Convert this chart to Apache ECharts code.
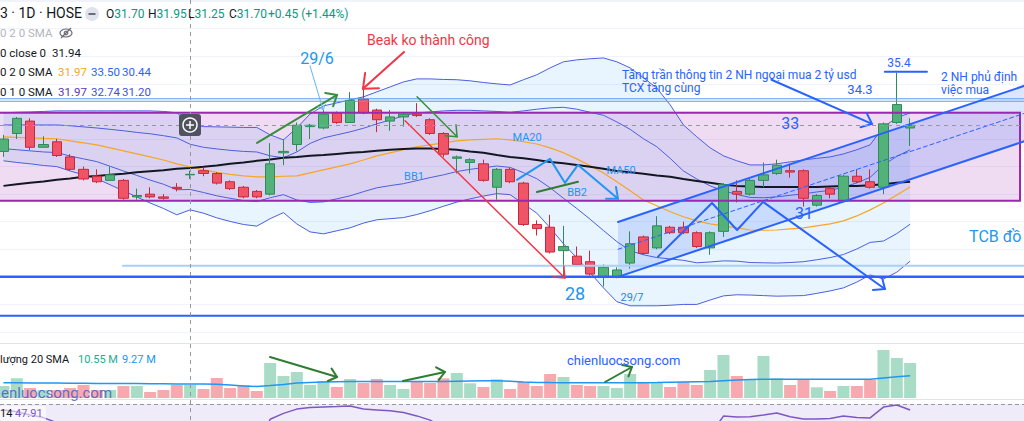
<!DOCTYPE html>
<html><head><meta charset="utf-8">
<script src="https://cdn.jsdelivr.net/npm/echarts@6/dist/echarts.min.js"></script>
<style>html,body{margin:0;padding:0;background:#fff;}#c{width:1024px;height:421px;}</style>
</head><body><div id="c"></div>
<script>
// ---- data ----
const dates = ['26/5','27/5','30/5','31/5','1/6','2/6','3/6','6/6','7/6','8/6','9/6','10/6','13/6','14/6','15/6','16/6','17/6','20/6','21/6','22/6','23/6','24/6','27/6','28/6','29/6','30/6','1/7','4/7','5/7','6/7','7/7','8/7','11/7','12/7','13/7','14/7','15/7','18/7','19/7','20/7','21/7','22/7','25/7','26/7','27/7','28/7','29/7','1/8','2/8','3/8','4/8','5/8','8/8','9/8','10/8','11/8','12/8','15/8','16/8','17/8','18/8','19/8','22/8','23/8','24/8','25/8','26/8','29/8','30/8'];
const open = [32.55,33.20,33.65,32.70,32.90,32.35,31.90,31.65,31.50,31.50, 30.90,31.00,30.90,31.25,31.70,31.85,31.75,31.45,31.25,31.10, 31.00,32.50,32.80,33.45,33.40,33.95,33.60,34.45,34.05,33.65, 33.80,33.90,33.70,33.20,32.30,32.15,32.10,31.25,31.90,31.40, 29.90,29.80,28.95,28.75,28.55,28.00,28.00,28.50,29.45,29.05, 29.80,29.80,29.60,29.05,29.65,31.10,31.00,31.50,31.75,31.85, 31.85,30.60,31.20,30.75,31.65,31.45,31.25,33.60,33.40];
const close = [33.00,33.75,32.70,32.80,32.40,31.90,31.55,31.45,31.70,30.85, 30.95,30.90,30.85,31.20,31.72,31.75,31.40,31.20,30.90,30.90, 32.10,32.55,33.50,33.50,33.90,33.60,34.40,33.95,33.70,33.80, 33.90,33.85,33.20,32.45,32.35,32.25,31.50,31.90,31.45,29.90, 29.75,28.90,29.10,28.45,28.10,28.35,28.25,29.20,28.85,29.85, 29.60,29.60,29.10,29.60,31.35,31.00,31.50,31.70,32.05,31.80, 30.85,30.95,31.00,31.65,31.45,31.25,33.55,34.25,33.50];
const low = [32.35,33.00,32.60,32.70,32.35,31.85,31.50,31.40,31.50,30.80, 30.80,30.85,30.80,31.10,31.55,31.65,31.35,31.15,30.85,30.85, 30.95,32.05,32.55,33.00,33.35,33.55,33.60,33.90,33.25,33.30, 33.45,33.80,33.15,32.35,31.75,31.75,31.45,30.80,31.40,29.85, 29.50,28.85,28.00,28.40,28.05,27.65,27.95,28.30,28.80,29.00, 29.55,29.55,29.05,28.80,29.45,30.70,30.95,31.25,31.70,31.60, 30.55,30.55,30.85,30.70,31.40,31.20,31.00,33.55,32.75];
const high = [33.15,33.80,33.75,33.10,33.00,32.45,32.00,31.90,32.00,31.55, 31.20,31.25,31.00,31.40,31.85,31.95,31.80,31.50,31.30,31.15, 32.85,33.00,33.60,33.55,34.05,34.00,34.70,34.80,34.10,34.05, 33.95,34.30,33.75,33.25,32.40,32.30,32.25,31.95,31.95,31.45, 30.05,30.25,29.85,29.10,28.95,28.45,28.35,29.65,29.50,30.20, 29.85,30.00,29.65,29.65,31.40,31.50,31.55,32.15,32.25,32.10, 31.90,31.00,31.25,31.70,31.90,31.90,33.60,35.40,33.75];
const ma20 = [33.08,33.06,33.04,33.02,33.01,32.93,32.86,32.79,32.68,32.57, 32.46,32.35,32.24,32.10,31.99,31.88,31.79,31.72,31.66,31.63, 31.63,31.65,31.66,31.77,31.88,31.99,32.10,32.24,32.39,32.50, 32.61,32.72,32.79,32.86,32.93,32.97,32.99,33.01,32.97,32.90, 32.82,32.68,32.50,32.28,32.03,31.77,31.45,31.12,30.79,30.58, 30.36,30.18,30.03,29.92,29.85,29.78,29.70,29.69,29.70,29.74, 29.78,29.85,29.92,30.03,30.21,30.43,30.68,30.97,31.26];
const ma50 = [31.30,31.36,31.41,31.46,31.52,31.57,31.63,31.66,31.70,31.74, 31.79,31.83,31.87,31.92,31.95,31.99,32.04,32.10,32.15,32.21, 32.26,32.32,32.35,32.39,32.42,32.46,32.50,32.53,32.57,32.61, 32.64,32.66,32.66,32.64,32.61,32.55,32.50,32.42,32.35,32.30, 32.24,32.17,32.12,32.06,31.99,31.92,31.84,31.79,31.74,31.68, 31.63,31.55,31.48,31.41,31.34,31.30,31.28,31.26,31.26,31.26, 31.26,31.26,31.28,31.30,31.30,31.32,31.36,31.41,31.45];
const bb2Upper = [33.95,33.97,33.98,34.00,34.02,34.02,34.02,34.02,34.02,34.02, 34.02,34.02,34.00,33.95,33.55,33.45,33.44,33.43,33.42,33.42, 33.15,32.97,33.40,33.91,34.20,34.31,34.42,34.53,34.71,34.89, 35.07,35.18,35.18,35.16,35.15,35.11,35.05,35.00,34.96,35.15, 35.33,35.58,35.80,35.87,35.91,35.94,35.80,35.58,35.22,34.85, 34.24,33.51,33.08,32.68,32.39,32.21,32.06,32.06,32.10,32.17, 32.24,32.30,32.35,32.46,32.61,32.79,33.44,33.77,33.95];
const bb1Upper = [33.51,33.51,33.51,33.51,33.51,33.48,33.44,33.40,33.35,33.30, 33.24,33.19,33.12,33.04,32.81,32.70,32.64,32.59,32.55,32.53, 32.39,32.32,32.53,32.84,33.04,33.15,33.26,33.39,33.55,33.69, 33.84,33.95,33.98,34.02,34.04,34.04,34.02,34.00,33.97,34.02, 34.08,34.13,34.15,34.08,33.97,33.86,33.62,33.35,33.01,32.72, 32.30,31.84,31.55,31.30,31.12,30.99,30.88,30.87,30.90,30.96, 31.01,31.08,31.14,31.25,31.41,31.61,32.06,32.37,32.61];
const bb1Lower = [32.65,32.61,32.57,32.53,32.51,32.38,32.28,32.18,32.01,31.84, 31.68,31.51,31.36,31.16,31.17,31.06,30.94,30.85,30.77,30.73, 30.87,30.98,30.79,30.70,30.72,30.83,30.94,31.09,31.23,31.31, 31.38,31.49,31.60,31.70,31.82,31.90,31.96,32.02,31.97,31.78, 31.56,31.23,30.85,30.48,30.09,29.68,29.28,28.95,28.80,28.70, 28.65,28.60,28.51,28.54,28.58,28.57,28.52,28.51,28.50,28.52, 28.55,28.62,28.70,28.81,29.01,29.25,29.30,29.57,29.91];
const bb2Lower = [32.21,32.15,32.10,32.04,32.00,31.84,31.70,31.56,31.34,31.12, 30.90,30.68,30.48,30.25,30.43,30.31,30.14,30.01,29.90,29.84, 30.11,30.33,29.92,29.63,29.56,29.67,29.78,29.95,30.07,30.11, 30.15,30.26,30.40,30.56,30.71,30.83,30.93,31.02,30.98,30.65, 30.31,29.78,29.20,28.69,28.15,27.60,27.10,26.95,26.95,26.95, 26.97,27.00,27.00,27.16,27.31,27.35,27.34,27.32,27.30,27.31, 27.32,27.40,27.49,27.60,27.81,28.07,27.92,28.17,28.57];
const volume = [6.0,9.85,5.0,4.0,4.0,5.0,6.5,4.0,4.0,6.0, 6.0,3.0,4.0,6.5,6.5,4.5,10.0,5.0,6.5,3.5, 17.5,11.0,13.0,6.5,8.5,5.5,9.5,7.5,9.5,6.5, 4.5,8.0,7.5,9.85,12.5,7.35,5.5,9.35,4.5,8.0, 6.0,12.0,10.5,6.5,6.0,6.0,5.0,12.0,7.5,8.0, 5.5,8.0,6.5,14.0,21.5,11.0,9.0,21.0,9.85,6.5, 9.0,5.35,3.5,6.0,6.0,9.0,24.0,20.0,17.5];
const volSma = [7.6,7.6,7.5,7.5,7.5,7.4,7.4,7.3,7.3,7.2, 7.2,7.1,7.1,7.0,7.0,7.0,6.9,6.5,6.0,5.8, 6.2,6.8,7.5,7.8,8.0,8.1,8.2,8.2,8.2,8.2, 8.2,8.2,8.3,8.3,8.4,8.5,8.6,8.65,8.4,8.0, 7.8,7.7,7.65,7.65,7.65,7.65,7.65,7.65,7.65,7.7, 7.9,8.0,8.1,8.2,8.6,9.0,9.2,9.35,9.35,9.35, 9.35,9.35,9.35,9.35,9.35,9.4,10.0,10.6,11.15];
const rsi = [66.5,65.5,63.5,62,59, 55,52,50,51,46, 46,45,45,47,47.91, 50,47,45,42,42, 61,64.5,67,68,68.3, 68.5,68.8,67,66.5,66, 65,63,60.5,56,53, 53,48,51,47,38, 37,33,35,32,30, 33,35,42,39,46, 45,45,42,52,62.9, 62.4,62.5,63.5,64.7,62.5, 61.2,61.2,61.5,62.9,62, 61.8,68.2,69.4,66.5];

const F = 'Roboto, "Liberation Sans", sans-serif';
const UP = '#52b27a', UPB = '#2e8b57', DN = '#f05467', DNB = '#c8283c';

// ---- drawings (in data coordinates: [bar index, price]) ----
const backDrawings = [
  {k:'fill', p:[[-1,33.95],[76.24,33.95],[76.24,30.76],[-1,30.76]], c:'rgba(156,39,176,0.16)'},
  {k:'fill', p:[[46.09,29.99],[77,35.0],[77,32.99],[46.09,28.0]], c:'rgba(41,98,255,0.16)'}
];
const drawings = [
  {k:'box', p:[[-1,33.95],[76.24,33.95],[76.24,30.76],[-1,30.76]], c:'#9c27b0', w:2},
  {k:'line', p:[[-1,34.46],[77,34.46]], c:'#5b9bf0', w:1},
  {k:'line', p:[[-1,34.37],[77,34.37]], c:'#5b9bf0', w:1},
  {k:'line', p:[[8.96,28.40],[77,28.40]], c:'#a9d0f5', w:2},
  {k:'line', p:[[-1,28.00],[77,28.00]], c:'#2962ff', w:2.5},
  {k:'line', p:[[-1,26.59],[77,26.59]], c:'#2962ff', w:2},
  {k:'line', p:[[46.09,29.99],[77,35.0]], c:'#2962ff', w:2},
  {k:'line', p:[[46.09,28.0],[77,32.99]], c:'#2962ff', w:2},
  {k:'line', p:[[46.09,29.0],[77,34.0]], c:'#2962ff', w:1, dash:[4,3]},
  {k:'line', p:[[19.02,32.86],[25.02,34.60]], c:'#388e3c', w:2, h:12},
  {k:'line', p:[[22.99,35.65],[23.97,34.06]], c:'#64b5f6', w:1, h:6},
  {k:'line', p:[[30.04,36.16],[26.96,34.82]], c:'#f23645', w:2, h:16},
  {k:'line', p:[[31.02,34.53],[34.02,33.08]], c:'#388e3c', w:1.5, h:12},
  {k:'line', p:[[30.12,33.66],[42.11,27.96]], c:'#f23645', w:1.5, h:12},
  {k:'line', p:[[38.51,31.52],[40.99,32.28],[42.11,31.41],[43.09,32.06],[46.09,30.83]], c:'#2196f3', w:2, h:12},
  {k:'line', p:[[40.01,31.08],[43.09,31.45]], c:'#2e7d32', w:2},
  {k:'line', p:[[49.09,28.73],[53.14,30.68],[55.02,29.70],[56.97,30.72],[66.11,27.56]], c:'#2962ff', w:2, h:12},
  {k:'line', p:[[57.6,35.15],[65.14,33.55]], c:'#2962ff', w:2, h:12},
  {k:'line', p:[[66.1,35.44],[69.26,35.44]], c:'#2962ff', w:2},
  {k:'text', at:[23.52,35.91], t:'29/6', c:'#2196f3', f:'16px '+F},
  {k:'text', at:[27.27,36.60], t:'Beak ko thành công', c:'#f23645', f:'14px '+F, al:'left'},
  {k:'text', at:[39.27,33.04], t:'MA20', c:'#2196f3', f:'11px '+F},
  {k:'text', at:[46.32,31.84], t:'MA50', c:'#2196f3', f:'11px '+F},
  {k:'text', at:[30.79,31.63], t:'BB1', c:'#2196f3', f:'11px '+F},
  {k:'text', at:[43.02,31.05], t:'BB2', c:'#2196f3', f:'11px '+F},
  {k:'text', at:[42.87,27.38], t:'28', c:'#2196f3', f:'18px '+F},
  {k:'text', at:[47.14,27.24], t:'29/7', c:'#1e88e5', f:'11px '+F},
  {k:'text', at:[60.04,30.29], t:'31', c:'#2962ff', f:'16px '+F},
  {k:'text', at:[59.0,33.55], t:'33', c:'#2962ff', f:'16px '+F},
  {k:'text', at:[67.17,35.76], t:'35.4', c:'#2962ff', f:'12px '+F},
  {k:'text', at:[64.24,34.78], t:'34.3', c:'#2962ff', f:'13px '+F},
  {k:'text', at:[46.39,35.10], t:'Tăng trần thông tin 2 NH ngoại mua 2 tỷ usd\nTCX tăng cùng', c:'#2962ff', f:'12px '+F, al:'left', lh:13},
  {k:'text', at:[70.32,35.03], t:'2 NH phủ định\nviệc mua', c:'#2962ff', f:'12px '+F, al:'left', lh:13},
  {k:'text', at:[72.42,29.45], t:'TCB đồ', c:'#2196f3', f:'16px '+F, al:'left'}
];
const volDrawings = [
  {k:'line', p:[[19.99,20.5],[25.02,10.5]], c:'#2e7d32', w:2, h:10},
  {k:'line', p:[[29.96,8.5],[33.11,13]], c:'#2e7d32', w:2, h:10},
  {k:'line', p:[[45.12,8],[47.14,15.5]], c:'#2e7d32', w:2, h:10},
  {k:'text', at:[42.26,19], t:'chienluocsong.com', c:'#2962ff', f:'13px '+F, al:'left'}
];

function head(a, b, size) {
  const ang = Math.atan2(b[1]-a[1], b[0]-a[0]), s = 0.7;
  return [[b[0]+size*Math.cos(ang+Math.PI-s), b[1]+size*Math.sin(ang+Math.PI-s)], b,
          [b[0]+size*Math.cos(ang+Math.PI+s), b[1]+size*Math.sin(ang+Math.PI+s)]];
}
function drawItems(list) {
  return function(params, api) {
    const d = list[params.dataIndex];
    const ch = [];
    if (d.k === 'text') {
      const c = api.coord(d.at);
      const st = {text:d.t, fill:d.c, font:d.f, align:d.al||'center', verticalAlign:'middle'};
      if (d.lh) st.lineHeight = d.lh;
      ch.push({type:'text', x:c[0], y:c[1], style:st});
    } else {
      const pts = d.p.map(p => api.coord(p));
      if (d.k === 'fill') ch.push({type:'polygon', shape:{points:pts}, style:{fill:d.c}});
      else if (d.k === 'box') ch.push({type:'polygon', shape:{points:pts}, style:{fill:'none', stroke:d.c, lineWidth:d.w}});
      else {
        const st = {fill:'none', stroke:d.c, lineWidth:d.w, lineCap:'round', lineJoin:'round'};
        if (d.dash) st.lineDash = d.dash;
        ch.push({type:'polyline', shape:{points:pts}, style:st});
        if (d.h) ch.push({type:'polyline', shape:{points:head(pts[pts.length-2], pts[pts.length-1], d.h)}, style:{fill:'none', stroke:d.c, lineWidth:d.w, lineCap:'round', lineJoin:'round'}});
      }
    }
    return {type:'group', children:ch};
  };
}

const idx = dates.map((d,i)=>i);
const candleData = idx.map(i => [i, open[i], close[i], low[i], high[i]]);
const pair = arr => arr.map((v,i)=>[i,v]);
const volData = idx.map(i => ({value:[i, volume[i]], itemStyle:{color: close[i] >= open[i] ? '#a8dcc6' : '#f6a9ae'}}));

const chart = echarts.init(document.getElementById('c'), null, {renderer:'svg'});
const xBase = {type:'value', min:-0.26, max:76.54, show:false};
const lineS = (data, color, w, z) => ({type:'line', data:pair(data), xAxisIndex:0, yAxisIndex:0, symbol:'none', lineStyle:{color, width:w}, z, silent:true});

const txt = (x, y, t, c, size) => ({type:'text', x, y, z:100, style:{text:t, fill:c, font:size+'px '+F, verticalAlign:'middle'}});
const ohlc = (x, letter, val) => ({type:'text', x, y:14, z:100, style:{text:'{a|'+letter+'}{g|'+val+'}', font:'12px '+F, verticalAlign:'middle', rich:{a:{fill:'#131722', font:'12px '+F}, g:{fill:'#089981', font:'12px '+F}}}});

chart.setOption({
  animation:false,
  grid:[
    {left:0, right:0, top:0, height:332},
    {left:0, right:0, top:340, height:58},
    {left:0, right:0, top:404, height:17, show:true, backgroundColor:'#f0ebf8', borderWidth:0}
  ],
  xAxis:[Object.assign({gridIndex:0}, xBase), Object.assign({gridIndex:1}, xBase), Object.assign({gridIndex:2}, xBase)],
  yAxis:[
    {gridIndex:0, type:'value', min:26, max:38.042, interval:1, axisLabel:{show:false}, axisLine:{show:false}, axisTick:{show:false}, splitLine:{show:true, lineStyle:{color:'#f0f3fa'}}},
    {gridIndex:1, type:'value', min:0, max:29, show:false},
    {gridIndex:2, type:'value', min:60, max:70, show:false}
  ],
  series:[
    {type:'custom', xAxisIndex:0, yAxisIndex:0, data:[[0,30]], z:1, silent:true, clip:true,
     renderItem:function(params, api){
       const up = bb2Upper.map((v,i)=>api.coord([i,v]));
       const lo = bb2Lower.map((v,i)=>api.coord([i,v])).reverse();
       return {type:'polygon', shape:{points:up.concat(lo)}, style:{fill:'rgba(33,150,243,0.1)'}};
     }},
    {type:'custom', xAxisIndex:0, yAxisIndex:0, data:backDrawings.map(()=>[0,30]), z:1, silent:true, clip:true, renderItem:drawItems(backDrawings)},
    lineS(bb2Upper, '#4b5fe0', 1, 2),
    lineS(bb1Upper, '#4b5fe0', 1, 2),
    lineS(bb1Lower, '#4b5fe0', 1, 2),
    lineS(bb2Lower, '#4b5fe0', 1, 2),
    lineS(ma20, '#f5a623', 1.2, 2),
    lineS(ma50, '#131722', 2, 2),
    {type:'candlestick', xAxisIndex:0, yAxisIndex:0, data:candleData, barWidth:10, z:3, silent:true,
     itemStyle:{color:UP, color0:DN, borderColor:UPB, borderColor0:DNB, borderWidth:1}},
    {type:'custom', xAxisIndex:0, yAxisIndex:0, data:drawings.map(()=>[0,30]), z:5, silent:true, clip:true, renderItem:drawItems(drawings)},
    {type:'bar', xAxisIndex:1, yAxisIndex:1, data:volData, barWidth:12, silent:true, z:2},
    {type:'line', xAxisIndex:1, yAxisIndex:1, data:pair(volSma), symbol:'none', lineStyle:{color:'#2196f3', width:1.5}, z:3, silent:true},
    {type:'custom', xAxisIndex:1, yAxisIndex:1, data:volDrawings.map(()=>[0,5]), z:5, silent:true, clip:false, renderItem:drawItems(volDrawings)},
    {type:'line', xAxisIndex:2, yAxisIndex:2, data:pair(rsi), symbol:'none', lineStyle:{color:'#7e57c2', width:1.5}, z:3, silent:true, clip:true}
  ],
  graphic:[
    {type:'line', z:50, shape:{x1:0, y1:343.5, x2:1024, y2:343.5}, style:{stroke:'#e0e3eb', lineWidth:1}},
    {type:'line', z:50, shape:{x1:0, y1:399.5, x2:1024, y2:399.5}, style:{stroke:'#e0e3eb', lineWidth:1}},
    {type:'line', z:50, shape:{x1:0, y1:404.5, x2:1024, y2:404.5}, style:{stroke:'#9598a1', lineWidth:1, lineDash:[4,3]}},
    {type:'line', z:60, shape:{x1:190.5, y1:0, x2:190.5, y2:421}, style:{stroke:'#9598a1', lineWidth:1, lineDash:[4,4]}},
    {type:'line', z:60, shape:{x1:0, y1:125.5, x2:1024, y2:125.5}, style:{stroke:'#9598a1', lineWidth:1, lineDash:[4,4]}},
    {type:'rect', z:70, shape:{x:179, y:114, width:22, height:22, r:3}, style:{fill:'#50535e'}},
    {type:'circle', z:71, shape:{cx:190, cy:125, r:7}, style:{fill:'none', stroke:'#ffffff', lineWidth:1.5}},
    {type:'line', z:71, shape:{x1:186, y1:125, x2:194, y2:125}, style:{stroke:'#ffffff', lineWidth:1.5}},
    {type:'line', z:71, shape:{x1:190, y1:121, x2:190, y2:129}, style:{stroke:'#ffffff', lineWidth:1.5}},
    // legend
    txt(0, 13, '3 · 1D · HOSE', '#131722', 14),
    {type:'circle', z:100, shape:{cx:92, cy:14, r:7}, style:{fill:'#e0e3eb'}},
    {type:'line', z:101, shape:{x1:88.5, y1:14, x2:95.5, y2:14}, style:{stroke:'#6a6d78', lineWidth:2}},
    ohlc(106, 'O', '31.70'),
    ohlc(148, 'H', '31.95'),
    ohlc(188, 'L', '31.25'),
    ohlc(229, 'C', '31.70'),
    txt(268, 14, '+0.45 (+1.44%)', '#089981', 12),
    txt(0, 33, '0 2 0 SMA', '#b2b5be', 11.5),
    {type:'ellipse', z:100, shape:{cx:66, cy:33, rx:6, ry:4}, style:{fill:'none', stroke:'#6a6d78', lineWidth:1.2}},
    {type:'circle', z:100, shape:{cx:66, cy:33, r:1.8}, style:{fill:'none', stroke:'#6a6d78', lineWidth:1.2}},
    {type:'line', z:100, shape:{x1:61, y1:38, x2:71, y2:28}, style:{stroke:'#6a6d78', lineWidth:1.2}},
    txt(0, 53, '0 close 0', '#131722', 11.5),
    txt(52, 53, '31.94', '#131722', 11.5),
    txt(0, 72, '0 2 0 SMA', '#131722', 11.5),
    txt(58, 72, '31.97', '#f5a623', 11.5),
    txt(91, 72, '33.50', '#2962ff', 11.5),
    txt(122, 72, '30.44', '#2962ff', 11.5),
    txt(0, 92, '0 1 0 SMA', '#131722', 11.5),
    txt(58, 92, '31.97', '#5e35b1', 11.5),
    txt(91, 92, '32.74', '#3f51d8', 11.5),
    txt(122, 92, '31.20', '#3f51d8', 11.5),
    txt(0, 359, 'lượng 20 SMA', '#131722', 11),
    txt(78, 359, '10.55 M', '#22ab94', 11),
    txt(122, 359, '9.27 M', '#2196f3', 11),
    {type:'text', z:90, x:1, y:393, style:{text:'enluocsong.com', fill:'#4b5bc4', font:'15px '+F, verticalAlign:'middle', opacity:0.85}},
    {type:'rect', z:95, shape:{x:0, y:406, width:46, height:15, r:2}, style:{fill:'rgba(255,255,255,0.6)'}},
    txt(0, 413, '14', '#131722', 11),
    txt(15, 413, '47.91', '#7e57c2', 11)
  ]
});
</script></body></html>
